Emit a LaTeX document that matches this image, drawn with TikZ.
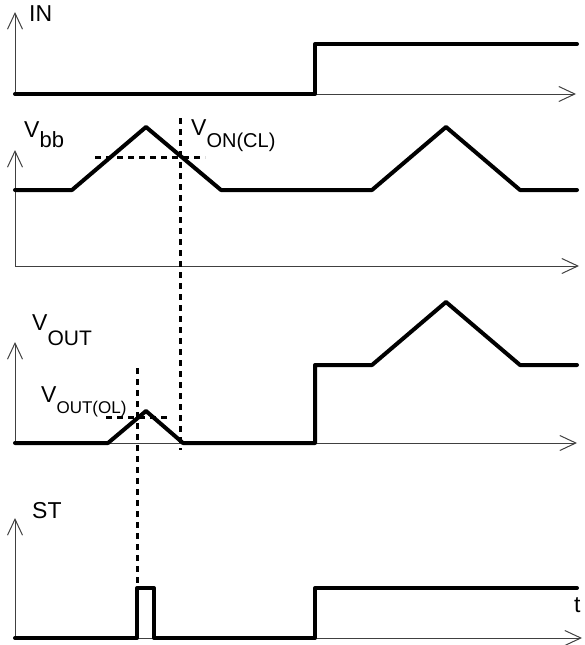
\documentclass[tikz,border=0pt]{standalone}
\usepackage{fontspec}
\setmainfont{Liberation Sans}
\usetikzlibrary{arrows.meta}
% subscript in text font: size, drop, text
\newcommand{\lowtext}[3]{\raisebox{-#2pt}{\fontsize{#1}{#1}\selectfont #3}}
\tikzset{
  sig/.style={line width=4pt,line cap=round,line join=round},
  axis/.style={line width=1pt,black!75,-{Straight Barb[length=16pt,width=15pt]}},
  guide/.style={line width=3pt,dash pattern=on 6pt off 5pt},
  lbl/.style={anchor=base west,inner sep=0pt,font=\fontsize{23}{23}\selectfont}
}
\begin{document}
\begin{tikzpicture}[x=1pt,y=-1pt]
\useasboundingbox (0,0) rectangle (584,645);
% axes
\draw[axis] (15,94) -- (15,12);
\draw[axis] (15,94) -- (576,94);
\draw[axis] (15,266) -- (15,150);
\draw[axis] (15,266) -- (579,266);
\draw[axis] (15,443) -- (15,342);
\draw[axis] (15,443) -- (577,443);
\draw[axis] (15,638) -- (15,518);
\draw[axis] (15,638) -- (582,638);
% guide lines
\draw[guide] (95,157) -- (205,157);
\draw[guide] (180,118) -- (180,450);
\draw[guide] (137,368) -- (137,583);
\draw[guide] (106,417) -- (170,417);
% signals
\draw[sig] (15,94) -- (315,94) -- (315,44) -- (577,44);
\draw[sig] (15,190) -- (72,190) -- (146,127) -- (221,190) -- (372,190) -- (446,127) -- (520,190) -- (577,190);
\draw[sig] (15,443) -- (108,443) -- (146,411) -- (183,443) -- (315,443) -- (315,365) -- (372,365) -- (446,302) -- (520,365) -- (577,365);
\draw[sig] (15,638) -- (137,638) -- (137,588) -- (154,588) -- (154,638) -- (315,638) -- (315,588) -- (577,588);
% labels
\node[lbl] (in) at (29,21) {IN};
\node[lbl] (vbb) at (24,137) {V\lowtext{22}{10}{bb}};
\node[lbl] (von) at (191,135) {V\lowtext{20}{12}{ON(CL)}};
\node[lbl] (vout) at (32,330) {V\lowtext{21}{15}{OUT}};
\node[lbl] (vol) at (41,402) {V\lowtext{17}{11}{OUT(OL)}};
\node[lbl] (st) at (32,518) {ST};
\node[lbl] (t) at (574,612) {t};
\end{tikzpicture}
\end{document}
